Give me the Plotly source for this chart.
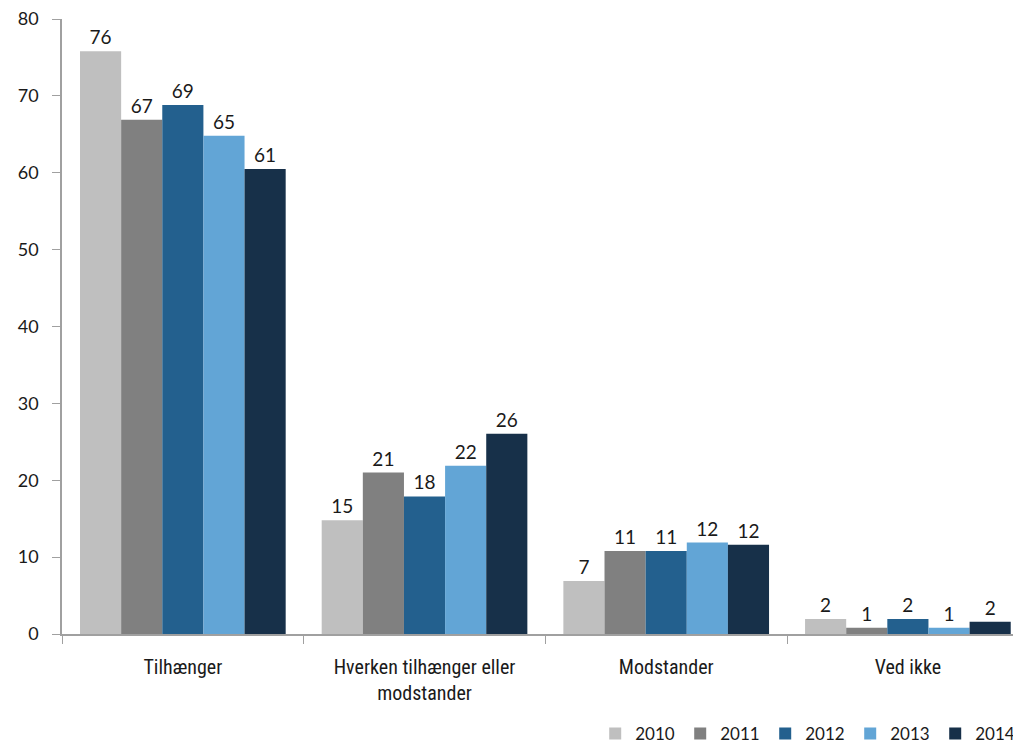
import plotly.graph_objects as go

kategorier = ['Tilhænger', 'Hverken tilhænger eller<br>modstander', 'Modstander', 'Ved ikke']
aar = ['2010', '2011', '2012', '2013', '2014']

# bar heights and the rounded labels shown
v2010 = [75.8, 14.8, 6.9, 1.95]
v2011 = [66.9, 21.0, 10.8, 0.8]
v2012 = [68.8, 17.9, 10.8, 1.95]
v2013 = [64.8, 21.9, 11.9, 0.8]
v2014 = [60.5, 26.05, 11.6, 1.6]

l2010 = ['76', '15', '7', '2']
l2011 = ['67', '21', '11', '1']
l2012 = ['69', '18', '11', '2']
l2013 = ['65', '22', '12', '1']
l2014 = ['61', '26', '12', '2']

farver = ['#BFBFBF', '#808080', '#23608E', '#62A5D6', '#173049']

serier = [v2010, v2011, v2012, v2013, v2014]
labels = [l2010, l2011, l2012, l2013, l2014]

fig = go.Figure()
for i, navn in enumerate(aar):
    fig.add_trace(go.Bar(
        x=kategorier,
        y=serier[i],
        name=navn,
        marker_color=farver[i],
        marker_line_width=0,
        text=labels[i],
        textposition='outside',
        textfont=dict(size=19, color='#1a1a1a', family='Lato, sans-serif'),
        cliponaxis=False,
    ))

# page body has an 8px margin, so the figure is sized to fit inside it
fig.update_layout(
    width=1013, height=744,
    barmode='group',
    bargap=0.149,
    bargroupgap=0,
    plot_bgcolor='white',
    paper_bgcolor='white',
    margin=dict(l=54, r=0, t=11, b=118),
    font=dict(family='Lato, sans-serif', color='#1a1a1a'),
    showlegend=True,
    legend=dict(
        orientation='h',
        x=0.556, xanchor='left',
        y=-0.192, yanchor='bottom',
        font=dict(size=17, family='Lato, sans-serif'),
        entrywidth=40, entrywidthmode='pixels',
        traceorder='normal',
        itemwidth=30,
    ),
    xaxis=dict(
        range=[-0.5, 3.468],
        showline=True, linecolor='#A0A0A0', linewidth=1.5,
        ticks='outside', tickson='boundaries', ticklen=8, tickcolor='#A0A0A0',
        tickfont=dict(size=20, family='Roboto Condensed, Liberation Sans Narrow, Roboto, sans-serif', color='#1a1a1a'),
        ticklabelstandoff=14,
        showgrid=False,
        automargin=False,
    ),
    yaxis=dict(
        range=[0, 80],
        dtick=10,
        showline=True, linecolor='#A0A0A0', linewidth=1.5,
        ticks='outside', ticklen=8, tickcolor='#A0A0A0',
        tickfont=dict(size=18, family='Lato, sans-serif', color='#1a1a1a'),
        ticklabelstandoff=10,
        ticklabeloverflow='allow',
        showgrid=False, zeroline=False,
        automargin=False,
    ),
)

fig.write_html('out.html')
